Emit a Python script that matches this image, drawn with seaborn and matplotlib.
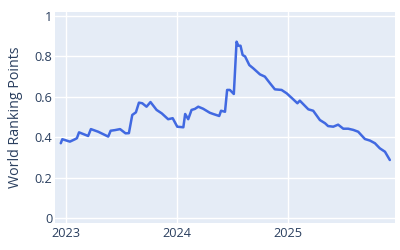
import matplotlib
matplotlib.use("Agg")
import matplotlib.pyplot as plt
import matplotlib.dates as mdates
import seaborn as sns
import pandas as pd

dates = [
    "2022-12-15", "2022-12-20", "2023-01-14", "2023-01-31", "2023-02-06", "2023-02-13",
    "2023-03-15", "2023-03-24", "2023-04-17", "2023-05-20", "2023-05-28", "2023-06-11",
    "2023-06-28", "2023-07-16", "2023-07-27", "2023-08-07", "2023-08-19", "2023-08-29",
    "2023-09-09", "2023-09-23", "2023-10-06", "2023-10-26", "2023-11-12", "2023-12-03",
    "2023-12-18", "2024-01-02", "2024-01-22", "2024-01-28", "2024-02-07", "2024-02-18",
    "2024-02-29", "2024-03-11", "2024-03-27", "2024-04-18", "2024-04-29", "2024-05-19",
    "2024-05-25", "2024-06-07", "2024-06-14", "2024-06-23", "2024-07-06", "2024-07-15",
    "2024-07-21", "2024-07-28", "2024-08-04", "2024-08-12", "2024-08-26", "2024-09-08",
    "2024-09-30", "2024-10-16", "2024-11-02", "2024-11-18", "2024-12-10", "2024-12-27",
    "2025-01-17", "2025-01-31", "2025-02-08", "2025-02-19", "2025-03-08", "2025-03-24",
    "2025-04-15", "2025-05-02", "2025-05-12", "2025-05-29", "2025-06-14", "2025-07-01",
    "2025-07-17", "2025-08-03", "2025-08-19", "2025-09-10", "2025-09-27", "2025-10-13",
    "2025-10-29", "2025-11-15", "2025-12-01",
]
points = [
    0.370, 0.390, 0.378, 0.390, 0.395, 0.424,
    0.406, 0.440, 0.427, 0.403, 0.432, 0.435,
    0.440, 0.419, 0.420, 0.510, 0.523, 0.571,
    0.568, 0.551, 0.574, 0.535, 0.518, 0.489,
    0.494, 0.452, 0.449, 0.515, 0.489, 0.535,
    0.540, 0.551, 0.541, 0.521, 0.515, 0.505,
    0.531, 0.526, 0.634, 0.634, 0.614, 0.873,
    0.853, 0.853, 0.807, 0.800, 0.757, 0.741,
    0.711, 0.700, 0.667, 0.637, 0.634, 0.617,
    0.588, 0.568, 0.581, 0.564, 0.538, 0.531,
    0.485, 0.469, 0.455, 0.452, 0.462, 0.442,
    0.442, 0.436, 0.427, 0.391, 0.383, 0.370,
    0.345, 0.328, 0.287,
]
y_ticks = [0, 0.2, 0.4, 0.6, 0.8, 1]
y_tick_labels = ["0", "0.2", "0.4", "0.6", "0.8", "1"]
x_tick_labels = ["2023", "2024", "2025"]
y_title = "World Ranking Points"

df = pd.DataFrame({"date": pd.to_datetime(dates), "points": points})

sns.set_theme(style="darkgrid")
plt.rcParams["font.family"] = ["Open Sans", "DejaVu Sans"]

text_color = "#2a3f5f"
fig = plt.figure(figsize=(4, 2.5), dpi=100)
fig.patch.set_facecolor("white")
ax = fig.add_axes([0.1375, 0.108, 0.85, 0.844])
ax.set_facecolor("#E5ECF6")

sns.lineplot(data=df, x="date", y="points", ax=ax, color="#4169E1", linewidth=1.8)

ax.set_ylim(-0.025, 1.02)
ax.set_xlim(pd.Timestamp("2022-11-26"), pd.Timestamp("2025-12-18"))
ax.set_yticks(y_ticks)
ax.set_yticklabels(y_tick_labels)
ax.set_xticks(pd.to_datetime([f"{t}-01-01" for t in x_tick_labels]))
ax.set_xticklabels(x_tick_labels)

ax.grid(True, color="white", linewidth=1.0)
for s in ax.spines.values():
    s.set_visible(False)
ax.tick_params(axis="both", length=0, labelsize=9.2, colors=text_color, pad=2)
ax.tick_params(axis="x", pad=3)
ax.set_xlabel("")
ax.set_ylabel(y_title, fontsize=10.3, color=text_color, labelpad=8)

fig.savefig("out.png", dpi=100)
